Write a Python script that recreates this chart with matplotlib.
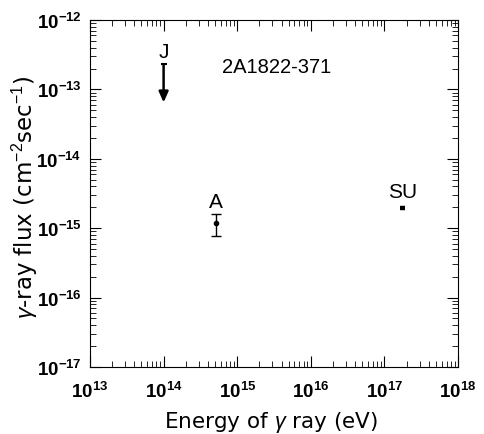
import matplotlib
matplotlib.use("Agg")
import matplotlib.pyplot as plt
from matplotlib.ticker import LogLocator, NullFormatter, FixedLocator

plt.rcParams['font.family'] = ['Liberation Sans', 'DejaVu Sans']
plt.rcParams['mathtext.fontset'] = 'custom'
plt.rcParams['mathtext.rm'] = 'Liberation Sans'
plt.rcParams['mathtext.it'] = 'Liberation Sans:italic'
plt.rcParams['mathtext.bf'] = 'Liberation Sans:bold'

# Data
j_energy = 1e14
j_flux_upper = 2.3e-13
j_arrow_dex = 0.55
a_energy = 5.15e14
a_flux = 1.19e-15
a_err_low = 7.7e-16
a_err_high = 1.6e-15
su_energy = 1.76e17
su_flux = 1.95e-15
xticks = [1e13, 1e14, 1e15, 1e16, 1e17, 1e18]
xticklabels = ['$\\mathbf{10^{13}}$', '$\\mathbf{10^{14}}$', '$\\mathbf{10^{15}}$',
               '$\\mathbf{10^{16}}$', '$\\mathbf{10^{17}}$', '$\\mathbf{10^{18}}$']
yticks = [1e-17, 1e-16, 1e-15, 1e-14, 1e-13, 1e-12]
yticklabels = ['$\\mathbf{10^{-17}}$', '$\\mathbf{10^{-16}}$', '$\\mathbf{10^{-15}}$',
               '$\\mathbf{10^{-14}}$', '$\\mathbf{10^{-13}}$', '$\\mathbf{10^{-12}}$']

fig = plt.figure(figsize=(4.84, 4.35), dpi=100)
ax = fig.add_axes([90/484, 1-368/435, 368/484, 347/435])
ax.set_xscale('log')
ax.set_yscale('log')
ax.set_xlim(1e13, 1e18)
ax.set_ylim(1e-17, 1e-12)

# J upper limit arrow
ax.annotate('', xy=(j_energy, j_flux_upper / 10**j_arrow_dex), xytext=(j_energy, j_flux_upper),
            arrowprops=dict(arrowstyle='-|>,head_length=0.45,head_width=0.2', color='black',
                            lw=1.8, mutation_scale=14, shrinkA=0, shrinkB=0))
ax.plot([j_energy], [j_flux_upper], marker='_', color='black', markersize=5, mew=1.5)
ax.annotate('J', xy=(j_energy, j_flux_upper), xytext=(0, 5), textcoords='offset points',
            ha='center', va='baseline', fontsize=15)

# A with error bar
ax.errorbar([a_energy], [a_flux],
            yerr=[[a_flux - a_err_low], [a_err_high - a_flux]],
            fmt='o', color='black', markersize=3, capsize=3.5, elinewidth=1, capthick=1)
ax.annotate('A', xy=(a_energy, a_err_high), xytext=(0, 5), textcoords='offset points',
            ha='center', va='baseline', fontsize=15)

# SU
ax.plot([su_energy / 10**0.03, su_energy * 10**0.03], [su_flux, su_flux], color='black', lw=3.2,
        solid_capstyle='butt')
ax.annotate('SU', xy=(su_energy, su_flux), xytext=(0, 8), textcoords='offset points',
            ha='center', va='baseline', fontsize=15)

ax.text(0.359, 0.865, '2A1822-371', transform=ax.transAxes, ha='left', va='center', fontsize=14.5)

ax.xaxis.set_major_locator(FixedLocator(xticks))
ax.set_xticklabels(xticklabels, fontsize=13.5)
ax.yaxis.set_major_locator(FixedLocator(yticks))
ax.set_yticklabels(yticklabels, fontsize=13.5)
ax.xaxis.set_minor_locator(LogLocator(base=10, subs=range(2, 10), numticks=20))
ax.yaxis.set_minor_locator(LogLocator(base=10, subs=range(2, 10), numticks=20))
ax.xaxis.set_minor_formatter(NullFormatter())
ax.yaxis.set_minor_formatter(NullFormatter())
ax.tick_params(which='both', direction='in', top=True, right=True)
ax.tick_params(axis='x', which='major', length=8, width=0.8, pad=10)
ax.tick_params(axis='y', which='major', length=8, width=0.8, pad=6)
ax.tick_params(which='minor', length=4, width=0.6)

ax.set_xlabel('Energy of $\\gamma$ ray (eV)', fontsize=15.5, family=['DejaVu Sans'])
ax.xaxis.set_label_coords(0.493, -0.122)
ax.set_ylabel('$\\gamma$-ray flux (cm$^{-2}$sec$^{-1}$)', fontsize=16.5, family=['DejaVu Sans'])
ax.yaxis.label.set_va('center')
ax.yaxis.set_label_coords(-0.177, 0.493)

fig.savefig('out.png', dpi=100)
